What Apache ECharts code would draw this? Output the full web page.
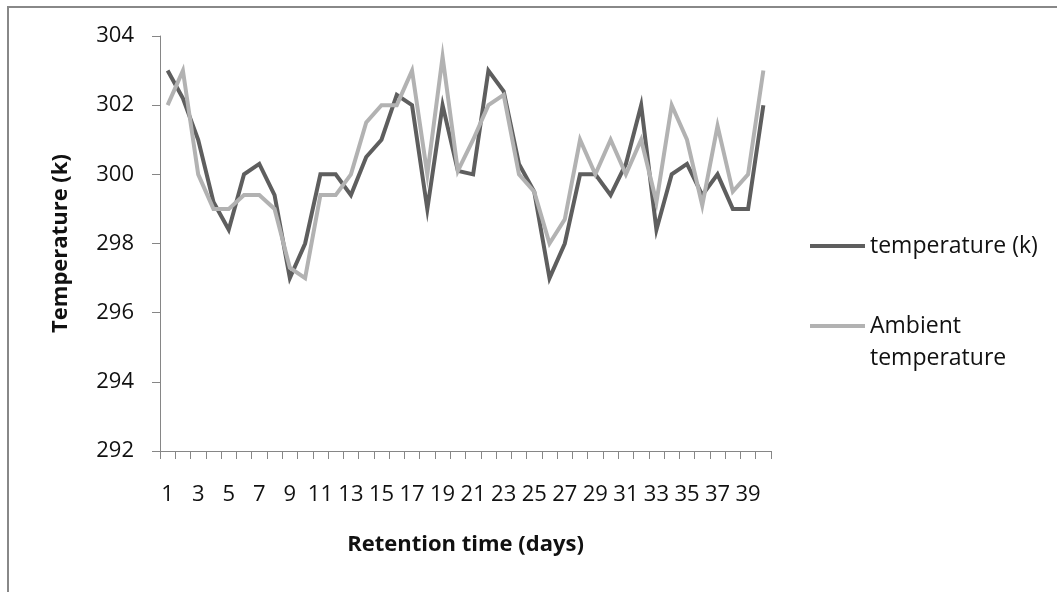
<!DOCTYPE html>
<html>
<head>
<meta charset="utf-8">
<script src="https://cdn.jsdelivr.net/npm/echarts@6/dist/echarts.min.js"></script>
<style>
html,body{margin:0;padding:0;background:#fff;}
#chart{width:1057px;height:592px;}
</style>
</head>
<body>
<div id="chart"></div>
<script>
var days = [];
for (var d = 1; d <= 40; d++) days.push(String(d));
var temperatureK = [303, 302.2, 301, 299.2, 298.4, 300, 300.3, 299.4, 297, 298,
  300, 300, 299.4, 300.5, 301, 302.3, 302, 299, 302, 300.1,
  300, 303, 302.4, 300.3, 299.5, 297, 298, 300, 300, 299.4,
  300.3, 302, 298.4, 300, 300.3, 299.4, 300, 299, 299, 302];
var ambientTemp = [302, 303, 300, 299, 299, 299.4, 299.4, 299, 297.3, 297,
  299.4, 299.4, 300, 301.5, 302, 302, 303, 300, 303.4, 300.1,
  301, 302, 302.3, 300, 299.5, 298, 298.7, 301, 300, 301,
  300, 301, 299.2, 302, 301, 299.1, 301.4, 299.5, 300, 303];
var seriesNames = ['temperature (k)', 'Ambient temperature'];
var yMin = 292, yMax = 304, yStep = 2;

var FONT = 'Open Sans';
var chart = echarts.init(document.getElementById('chart'));
chart.setOption({
  animation: false,
  backgroundColor: '#fff',
  textStyle: { fontFamily: FONT },
  graphic: [{
    type: 'rect', z: -1,
    shape: { x: 8, y: 7, width: 1200, height: 800 },
    style: { fill: 'none', stroke: '#888', lineWidth: 2 }
  }],
  grid: { left: 160, right: 286, top: 36, bottom: 141 },
  legend: [{
    data: [seriesNames[0]],
    orient: 'vertical', left: 810, top: 230, padding: 0,
    itemWidth: 55, itemHeight: 4, itemGap: 0, itemTextGap: 4,
    icon: 'rect',
    textStyle: { fontFamily: FONT, fontSize: 23, color: '#111', lineHeight: 32 }
  }, {
    data: [seriesNames[1]],
    orient: 'vertical', left: 810, top: 278, padding: 0,
    itemWidth: 55, itemHeight: 4, itemGap: 0, itemTextGap: 4,
    icon: 'rect',
    formatter: function () { return '\u00a0\nAmbient\ntemperature'; },
    textStyle: { fontFamily: FONT, fontSize: 23, color: '#111', lineHeight: 32 }
  }],
  xAxis: {
    type: 'category',
    data: days,
    boundaryGap: true,
    name: 'Retention time (days)',
    nameLocation: 'middle',
    nameGap: 83,
    nameTextStyle: { fontFamily: FONT, fontSize: 22, fontWeight: 'bold', color: '#111' },
    axisLine: { show: true, lineStyle: { color: '#868686', width: 1 } },
    axisTick: { show: true, interval: 0, length: 8, lineStyle: { color: '#868686' } },
    axisLabel: { interval: 1, margin: 33, fontFamily: FONT, fontSize: 22, color: '#111' },
    splitLine: { show: false }
  },
  yAxis: {
    type: 'value',
    min: yMin, max: yMax, interval: yStep,
    name: 'Temperature (k)',
    nameLocation: 'middle',
    nameGap: 88,
    nameRotate: 90,
    nameTextStyle: { fontFamily: FONT, fontSize: 22, fontWeight: 'bold', color: '#111' },
    axisLine: { show: true, lineStyle: { color: '#868686', width: 1 } },
    axisTick: { show: true, length: 8, lineStyle: { color: '#868686' } },
    axisLabel: { margin: 26, fontFamily: FONT, fontSize: 22, color: '#111' },
    splitLine: { show: false }
  },
  series: [{
    name: seriesNames[0],
    type: 'line',
    data: temperatureK,
    showSymbol: false,
    symbol: 'none',
    color: '#5e5e5e',
    lineStyle: { width: 4, color: '#5e5e5e', join: 'miter' }
  }, {
    name: seriesNames[1],
    type: 'line',
    data: ambientTemp,
    showSymbol: false,
    symbol: 'none',
    color: '#b2b2b2',
    lineStyle: { width: 4, color: '#b2b2b2', join: 'miter' }
  }]
});
</script>
</body>
</html>
